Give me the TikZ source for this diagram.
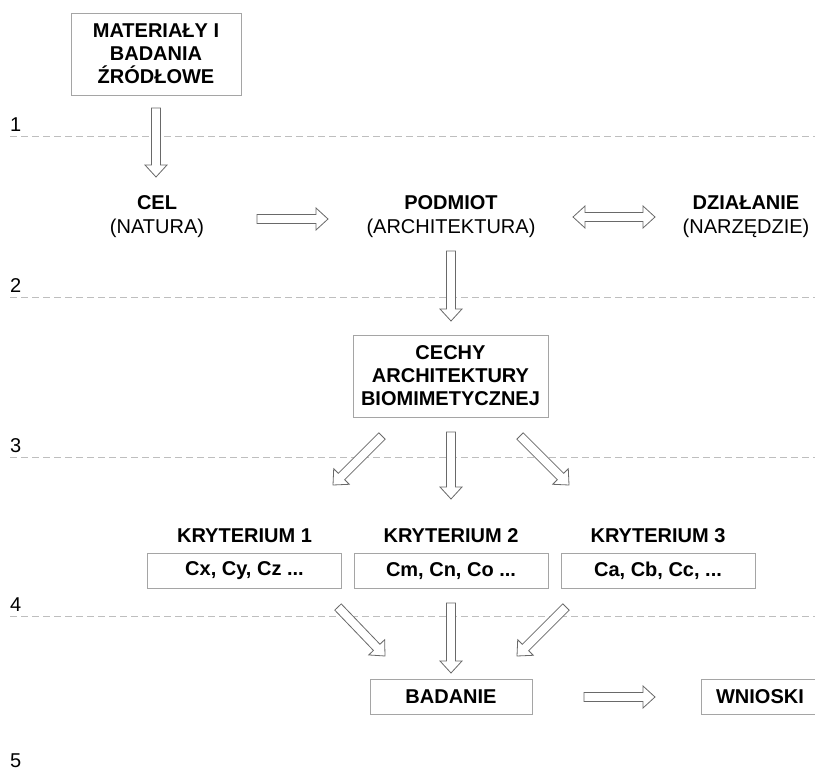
\documentclass[tikz,border=0pt]{standalone}
\usepackage{fontspec}
\setmainfont{Liberation Sans}
\usetikzlibrary{calc}

\definecolor{boxgray}{RGB}{165,165,165}
\definecolor{arrowgray}{RGB}{105,105,105}
\definecolor{guidegray}{RGB}{190,190,190}

% hollow block arrow from #1 to #2 (tip at #2)
\newcommand\blockarrow[2]{%
  \coordinate (ba-h) at ($(#2)!12pt!(#1)$);
  \draw[blockline]
    ($(#1)!4.5pt!90:(#2)$) -- ($(ba-h)!4.5pt!90:(#2)$) -- ($(ba-h)!11pt!90:(#2)$)
    -- (#2)
    -- ($(ba-h)!11pt!-90:(#2)$) -- ($(ba-h)!4.5pt!-90:(#2)$) -- ($(#1)!4.5pt!-90:(#2)$)
    -- cycle;}

% hollow block arrow with heads at both ends
\newcommand\doubleblockarrow[2]{%
  \coordinate (ba-a) at ($(#1)!12pt!(#2)$);
  \coordinate (ba-b) at ($(#2)!12pt!(#1)$);
  \draw[blockline]
    (#1) -- ($(ba-a)!11pt!90:(#2)$) -- ($(ba-a)!4.5pt!90:(#2)$)
    -- ($(ba-b)!4.5pt!90:(#2)$) -- ($(ba-b)!11pt!90:(#2)$)
    -- (#2)
    -- ($(ba-b)!11pt!-90:(#2)$) -- ($(ba-b)!4.5pt!-90:(#2)$)
    -- ($(ba-a)!4.5pt!-90:(#2)$) -- ($(ba-a)!11pt!-90:(#2)$)
    -- cycle;}

\begin{document}
\begin{tikzpicture}[x=1pt, y=-1pt,
  box/.style={draw=boxgray, line width=0.8pt, fill=white, align=center,
    inner sep=0pt, font=\fontsize{20}{23}\selectfont\bfseries},
  term/.style={align=center, inner sep=0pt, font=\fontsize{20}{24}\selectfont},
  crit/.style={inner sep=0pt, font=\fontsize{20}{23}\selectfont\bfseries},
  cbox/.style={box, minimum width=194pt, minimum height=35pt},
  numlabel/.style={anchor=base west, inner sep=0pt, font=\fontsize{20}{23}\selectfont},
  guide/.style={draw=guidegray, line width=0.8pt, dash pattern=on 7pt off 4pt},
  blockline/.style={draw=arrowgray, fill=white, line width=0.8pt, line join=miter}]

\useasboundingbox (0,0) rectangle (815,771);

% level guides and their numbers
\foreach \yy/\lab in {136/1, 297/2, 457/3, 616/4}{
  \draw[guide] (10,\yy) -- (815,\yy);
  \node[numlabel] (lvl\lab) at (10,\yy-5) {\lab};
}
\node[numlabel] (lvl5) at (10,767) {5};

% nodes
\node[box, minimum width=170pt, minimum height=82pt] (mat) at (156,54)
  {MATERIAŁY I\\BADANIA\\ŹRÓDŁOWE};

\node[term] (cel) at (157,217) {\textbf{CEL}\\(NATURA)};
\node[term] (pod) at (451,217) {\textbf{PODMIOT}\\(ARCHITEKTURA)};
\node[term] (dzi) at (746,217) {\textbf{DZIAŁANIE}\\(NARZĘDZIE)};

\node[box, minimum width=195pt, minimum height=82pt] (cechy) at (450.5,376)
  {CECHY\\ARCHITEKTURY\\BIOMIMETYCZNEJ};

\node[crit] (k1) at (244.5,536) {KRYTERIUM 1};
\node[crit] (k2) at (451,536) {KRYTERIUM 2};
\node[crit] (k3) at (658,536) {KRYTERIUM 3};

\node[cbox] (c1) at (244.5,571) {Cx, Cy, Cz ...};
\node[cbox] (c2) at (451,571) {Cm, Cn, Co ...};
\node[cbox] (c3) at (658,571) {Ca, Cb, Cc, ...};

\node[box, minimum width=162pt, minimum height=35pt] (bad) at (451,696.5) {BADANIE};
\draw[draw=boxgray, line width=0.8pt] (820,679) -| (701,714) -- (820,714);
\node[crit] (wni) at (760,696.5) {WNIOSKI};

% arrow end points
\coordinate (a1s) at (156,108);  \coordinate (a1e) at (156,177);
\coordinate (a2s) at (257,219);  \coordinate (a2e) at (328,219);
\coordinate (a3s) at (573,217);  \coordinate (a3e) at (655,217);
\coordinate (a4s) at (451,251);  \coordinate (a4e) at (451,321);
\coordinate (a5s) at (382,436);  \coordinate (a5e) at (333,485);
\coordinate (a6s) at (451,432);  \coordinate (a6e) at (451,499);
\coordinate (a7s) at (520,436);  \coordinate (a7e) at (569,485);
\coordinate (a8s) at (338,607);  \coordinate (a8e) at (385,656);
\coordinate (a9s) at (451,603);  \coordinate (a9e) at (451,673);
\coordinate (a10s) at (566,607); \coordinate (a10e) at (517,656);
\coordinate (a11s) at (584,697); \coordinate (a11e) at (655,697);

% arrows
\blockarrow{a1s}{a1e}
\blockarrow{a2s}{a2e}
\doubleblockarrow{a3s}{a3e}
\blockarrow{a4s}{a4e}
\blockarrow{a5s}{a5e}
\blockarrow{a6s}{a6e}
\blockarrow{a7s}{a7e}
\blockarrow{a8s}{a8e}
\blockarrow{a9s}{a9e}
\blockarrow{a10s}{a10e}
\blockarrow{a11s}{a11e}

\end{tikzpicture}
\end{document}
